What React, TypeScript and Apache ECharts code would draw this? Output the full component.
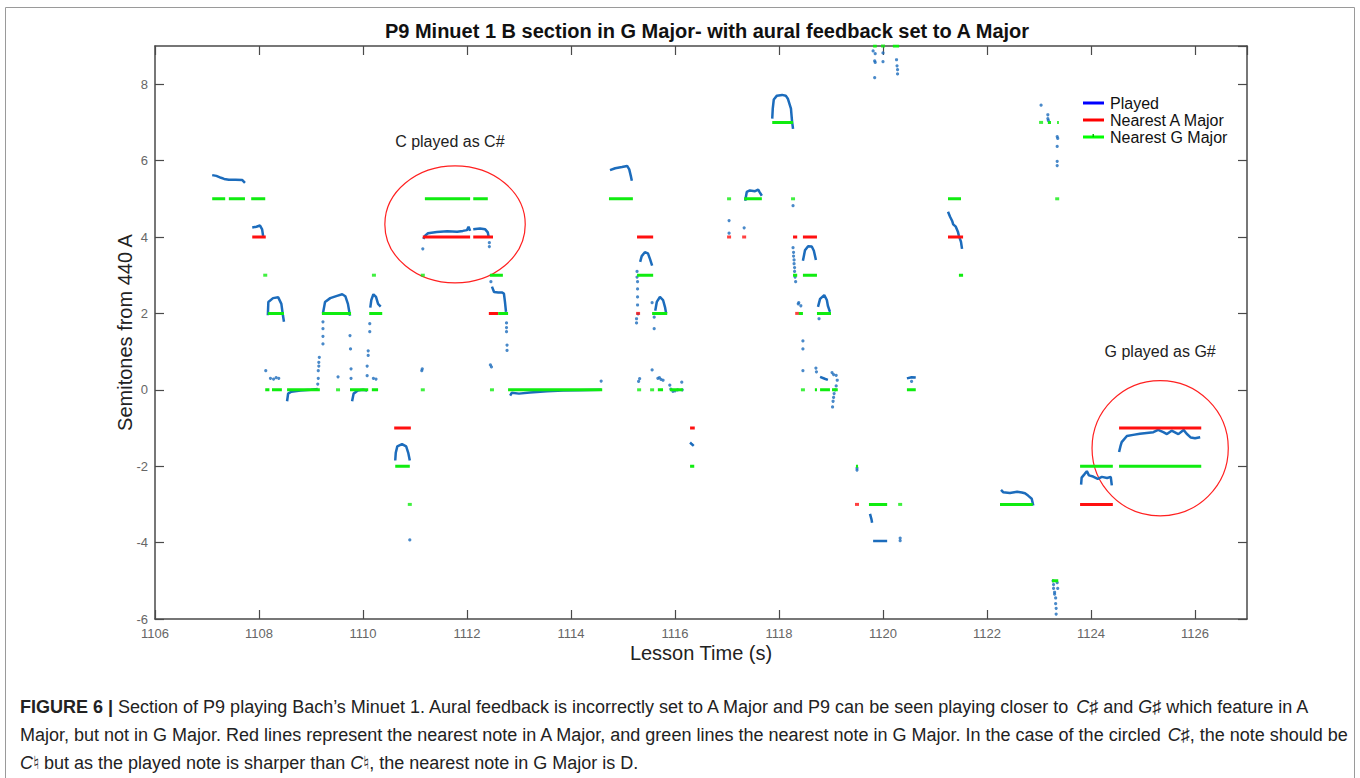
import React, { useEffect, useRef } from "react";
import * as echarts from "echarts";

// ---------------- data ----------------
const titleText = "P9 Minuet 1 B section in G Major- with aural feedback set to A Major";
const xName = "Lesson Time (s)";
const yName = "Semitones from 440 A";
const xMin = 1106, xMax = 1127, xStep = 2;
const yMin = -6, yMax = 9, yStep = 2;

// Played pitch: continuous traces [time, semitones]
const playedCurves: [number, number][][] = [
  [[1107.10,5.62],[1107.18,5.6],[1107.27,5.55],[1107.33,5.52],[1107.42,5.5],[1107.55,5.5],[1107.68,5.49],[1107.73,5.42]],
  [[1107.87,4.25],[1107.95,4.27],[1108.02,4.3],[1108.06,4.2],[1108.08,4.02]],
  [[1108.17,1.95],[1108.18,2.3],[1108.27,2.4],[1108.37,2.42],[1108.43,2.25],[1108.46,1.95],[1108.48,1.78]],
  [[1108.54,-0.3],[1108.56,-0.1],[1108.62,-0.05],[1108.8,-0.02],[1109.0,0],[1109.13,0.02]],
  [[1109.23,2.0],[1109.27,2.3],[1109.37,2.4],[1109.5,2.46],[1109.6,2.5],[1109.66,2.45],[1109.71,2.25],[1109.75,1.94]],
  [[1109.79,-0.3],[1109.82,-0.1],[1109.9,-0.02],[1110.0,0.0],[1110.08,-0.02]],
  [[1110.14,2.15],[1110.16,2.35],[1110.2,2.5],[1110.25,2.43],[1110.29,2.25],[1110.34,2.18]],
  [[1110.62,-1.85],[1110.63,-1.65],[1110.66,-1.48],[1110.75,-1.42],[1110.83,-1.48],[1110.87,-1.65],[1110.9,-1.85]],
  [[1111.16,3.95],[1111.19,4.03],[1111.25,4.1],[1111.42,4.13],[1111.62,4.15],[1111.81,4.14],[1111.92,4.16],[1112.0,4.18],[1112.03,4.27],[1112.06,4.16]],
  [[1112.12,4.2],[1112.25,4.22],[1112.35,4.2],[1112.4,4.12],[1112.42,3.98]],
  [[1112.48,2.7],[1112.52,2.56],[1112.6,2.55],[1112.67,2.55],[1112.71,2.52],[1112.73,2.3],[1112.75,2.04]],
  [[1112.83,-0.15],[1112.86,-0.08],[1113.0,-0.1],[1113.21,-0.07],[1113.54,-0.04],[1113.85,-0.02],[1114.17,-0.01],[1114.58,0.0]],
  [[1114.75,5.75],[1114.85,5.8],[1114.98,5.83],[1115.08,5.86],[1115.12,5.77],[1115.15,5.6],[1115.17,5.47]],
  [[1115.33,3.35],[1115.36,3.5],[1115.42,3.6],[1115.48,3.57],[1115.52,3.42],[1115.56,3.25]],
  [[1115.62,2.07],[1115.65,2.3],[1115.71,2.43],[1115.77,2.35],[1115.81,2.15],[1115.83,2.0]],
  [[1116.29,-1.38],[1116.32,-1.42],[1116.36,-1.47]],
  [[1117.35,4.95],[1117.38,5.18],[1117.44,5.22],[1117.54,5.2],[1117.6,5.24],[1117.63,5.17],[1117.67,5.08]],
  [[1117.87,7.1],[1117.88,7.36],[1117.9,7.6],[1117.96,7.7],[1118.06,7.72],[1118.13,7.7],[1118.17,7.62],[1118.23,7.36],[1118.25,7.04],[1118.27,6.83]],
  [[1118.46,3.38],[1118.5,3.65],[1118.56,3.76],[1118.63,3.75],[1118.67,3.64],[1118.71,3.4]],
  [[1118.75,2.17],[1118.79,2.38],[1118.87,2.48],[1118.92,2.35],[1118.94,2.2],[1118.98,2.04]],
  [[1118.79,0.34],[1118.88,0.29],[1118.94,0.26]],
  [[1120.46,0.3],[1120.55,0.33],[1120.63,0.32]],
  [[1119.75,-3.25],[1119.78,-3.4],[1119.79,-3.48]],
  [[1119.81,-3.96],[1119.95,-3.96],[1120.08,-3.96]],
  [[1121.25,4.66],[1121.29,4.53],[1121.33,4.42],[1121.35,4.33],[1121.4,4.27],[1121.44,4.14],[1121.46,4.03],[1121.5,3.87],[1121.52,3.69]],
  [[1122.27,-2.62],[1122.31,-2.68],[1122.44,-2.7],[1122.58,-2.67],[1122.67,-2.69],[1122.73,-2.71],[1122.79,-2.77],[1122.86,-2.85],[1122.89,-3.03]],
  [[1123.81,-2.48],[1123.82,-2.3],[1123.88,-2.2],[1123.92,-2.13],[1123.96,-2.24],[1124.04,-2.27],[1124.13,-2.33],[1124.21,-2.28],[1124.31,-2.31],[1124.38,-2.28],[1124.4,-2.5]],
  [[1124.54,-1.63],[1124.57,-1.46],[1124.59,-1.37],[1124.69,-1.21],[1124.81,-1.18],[1124.94,-1.15],[1125.07,-1.13],[1125.2,-1.11],[1125.29,-1.05],[1125.39,-1.11],[1125.46,-1.16],[1125.55,-1.07],[1125.68,-1.16],[1125.78,-1.05],[1125.84,-1.15],[1125.92,-1.25],[1126.0,-1.27],[1126.1,-1.24]],
];

// Played pitch: isolated samples
const playedDots: [number, number][] = [
  [1108.13,0.5],[1108.22,0.3],[1108.28,0.28],[1108.33,0.32],[1108.38,0.3],
  [1109.13,0.15],[1109.14,0.3],[1109.14,0.5],[1109.15,0.62],[1109.15,0.72],[1109.16,0.85],
  [1109.23,1.2],[1109.23,1.4],[1109.23,1.6],[1109.23,1.78],
  [1109.52,0.34],[1109.75,1.42],[1109.76,1.07],[1109.77,0.55],[1109.77,0.3],
  [1110.08,0.37],[1110.08,0.62],[1110.1,0.9],[1110.1,1.02],[1110.13,1.52],[1110.13,1.73],
  [1110.2,0.3],[1110.25,0.28],[1110.9,-3.93],
  [1111.15,3.69],[1111.13,0.5],[1111.14,0.55],[1112.43,3.85],[1112.43,3.75],[1112.45,0.65],[1112.47,0.6],
  [1112.46,2.83],[1112.76,1.75],[1112.76,1.63],[1112.76,1.52],[1112.77,1.17],[1112.77,1.03],
  [1114.58,0.23],
  [1115.27,3.1],[1115.27,2.95],[1115.28,2.83],[1115.28,2.64],[1115.28,2.43],[1115.28,2.22],[1115.29,1.99],[1115.26,1.86],[1115.26,1.75],
  [1115.56,2.28],[1115.6,1.9],[1115.6,1.6],[1115.56,0.52],[1115.32,0.29],[1115.3,0.22],
  [1115.67,0.3],[1115.7,0.32],[1115.73,0.27],[1115.77,0.25],[1115.9,0.12],[1115.92,0.02],[1115.96,-0.04],[1116.0,-0.03],[1116.05,0.0],[1116.13,0.2],[1116.14,0.0],
  [1117.04,4.43],[1117.04,4.1],[1117.33,4.24],
  [1118.27,4.82],[1118.27,3.72],[1118.28,3.6],[1118.28,3.5],[1118.29,3.4],[1118.29,3.3],[1118.3,3.2],[1118.3,3.1],[1118.31,2.95],[1118.32,2.83],
  [1118.37,2.25],[1118.42,2.2],[1118.38,2.28],[1118.77,1.86],[1118.46,1.28],[1118.46,1.07],
  [1118.46,0.5],[1118.71,0.57],[1118.72,0.47],
  [1119.02,0.45],[1119.05,0.4],[1119.1,0.38],[1119.12,0.25],[1119.1,0.1],[1119.08,0.0],[1119.06,-0.1],[1119.05,-0.2],[1119.04,-0.3],[1119.03,-0.45],
  [1120.55,0.22],[1119.5,-2.1],[1119.5,-2.05],[1120.33,-3.88],[1120.33,-3.95],
  [1119.81,8.87],[1119.85,8.8],[1119.84,8.61],[1119.85,8.57],[1119.84,8.17],[1120.0,8.82],[1120.0,8.59],[1120.26,8.64],[1120.27,8.48],[1120.28,8.38],[1120.28,8.27],
  [1123.04,7.45],[1123.17,7.2],[1123.17,7.1],[1123.18,7.05],[1123.35,6.63],[1123.36,6.58],[1123.35,6.37],[1123.35,5.98],[1123.35,5.87],
  [1123.27,-5.0],[1123.28,-5.1],[1123.28,-5.2],[1123.3,-5.3],[1123.3,-5.35],[1123.32,-5.45],[1123.32,-5.6],[1123.33,-5.72],[1123.33,-5.87],[1123.35,-5.05],[1123.36,-5.2],
];

// Nearest note in A Major: [start, end, semitones]
const aMajorLines: [number, number, number][] = [
  [1107.87,1108.13,4],[1110.6,1110.92,-1],[1111.15,1112.06,4],[1112.12,1112.5,4],[1112.42,1112.6,2],
  [1115.27,1115.58,4],[1116.29,1116.38,-1],[1118.27,1118.35,4],[1118.46,1118.73,4],
  [1121.25,1121.54,4],[1123.79,1124.42,-3],[1124.54,1126.12,-1],
];
const aMajorDots: [number, number][] = [
  [1115.29,2],[1117.04,4],[1117.33,4],[1118.35,2],[1119.5,-3],
];

// Nearest note in G Major: [start, end, semitones]
const gMajorLines: [number, number, number][] = [
  [1107.10,1107.35,5],[1107.42,1107.73,5],[1107.85,1108.12,5],[1108.17,1108.48,2],
  [1108.12,1108.2,0],[1108.25,1108.44,0],[1108.54,1109.17,0],[1109.21,1109.77,2],
  [1109.75,1110.1,0],[1110.12,1110.37,2],[1110.17,1110.29,0],[1110.62,1110.9,-2],
  [1111.19,1112.06,5],[1112.12,1112.4,5],[1112.44,1112.69,3],[1112.6,1112.79,2],
  [1112.79,1114.6,0],[1114.73,1115.19,5],[1115.27,1115.58,3],[1115.56,1115.85,2],
  [1115.67,1115.77,0],[1115.9,1116.15,0],[1116.29,1116.37,-2],[1117.33,1117.67,5],
  [1117.87,1118.27,7],[1118.27,1118.35,3],[1118.46,1118.73,3],[1118.38,1118.46,2],
  [1118.73,1119.0,2],[1118.69,1118.73,0],[1118.79,1118.98,0],[1119.02,1119.13,0],
  [1119.48,1119.52,-2],[1119.73,1120.08,-3],[1119.81,1119.88,9],[1120.19,1120.31,9],
  [1120.46,1120.63,0],[1121.25,1121.5,5],[1121.46,1121.54,3],[1122.25,1122.88,-3],
  [1123.17,1123.23,7],[1123.35,1123.38,7],[1123.25,1123.37,-5],[1123.79,1124.42,-2],
  [1124.54,1126.12,-2],
];
const gMajorDots: [number, number][] = [
  [1108.12,3],[1109.52,0],[1110.21,3],[1110.9,-3],[1111.15,3],[1111.15,0],[1112.48,0],
  [1115.31,0],[1115.56,0],[1117.04,5],[1118.27,5],[1118.46,0],[1120.33,-3],[1120.0,9],
  [1123.04,7],[1123.35,5],
];

// Annotation ellipses [centreTime, centreSemitones, radiusTime, radiusSemitones]
const annotationEllipses: [number, number, number, number][] = [
  [1111.77, 4.33, 1.35, 1.53],
  [1125.33, -1.53, 1.31, 1.77],
];
const annotationLabels: string[] = ["C played as C#", "G played as G#"];
const annotationLabelPos: [number, number][] = [[1111.67, 6.5], [1125.33, 1.0]];

const legendItems: string[] = ["Played", "Nearest A Major", "Nearest G Major"];

// ---------------- helpers ----------------
const GAP: [any, any] = ["-", "-"];
function curvesToLine(curves: [number, number][][]) {
  const out: any[] = [];
  curves.forEach((c, i) => {
    if (i) out.push(GAP);
    c.forEach((p) => out.push(p));
  });
  return out;
}
function barsToLine(bars: [number, number, number][]) {
  return curvesToLine(bars.map(([a, b, v]) => [[a, v], [b, v]] as [number, number][]));
}

const PLAYED = "#1c6cbc";
const RED = "#ff1010";
const GREEN = "#10ec10";
const AXIS = "#4a4a4a";
const FONT = "Liberation Sans, Arial, Helvetica, sans-serif";

export default function App() {
  const ref = useRef<HTMLDivElement>(null);
  useEffect(() => {
    if (!ref.current) return;
    const chart = echarts.init(ref.current, undefined, { renderer: "svg" });
    const axisCommon = {
      type: "value" as const,
      splitLine: { show: false },
      axisLine: { show: true, onZero: false, lineStyle: { color: AXIS, width: 1.5 } },
      axisTick: { show: true, inside: true, length: 9, lineStyle: { color: AXIS, width: 1.2 } },
    };
    const legendY = [103, 120, 137];
    const legendColors = ["#0000ff", "#ff0000", "#00ff00"];
    const CAP = 18;
    const captionFont = { fontSize: CAP, fontFamily: FONT, fill: "#222" };
    const italic = { fontStyle: "italic", fontSize: CAP, fontFamily: FONT, fill: "#222" };
    chart.setOption({
      animation: false,
      textStyle: { fontFamily: FONT },
      title: {
        text: titleText,
        left: 702,
        top: 16,
        textAlign: "center",
        textStyle: { fontSize: 20, fontWeight: "bold", color: "#111", fontFamily: FONT },
      },
      grid: { left: 155, right: 113, top: 46, bottom: 159 },
      xAxis: [
        {
          ...axisCommon,
          min: xMin, max: xMax, interval: xStep,
          axisLabel: { showMaxLabel: false, color: "#666", fontSize: 13, margin: 8, formatter: (v: number) => String(v) },
          name: xName, nameLocation: "middle", nameGap: 24, nameMoveOverlap: false,
          nameTextStyle: { fontSize: 20, color: "#222" },
        },
        {
          ...axisCommon,
          position: "top",
          min: xMin, max: xMax, interval: xStep,
          axisLabel: { show: false },
        },
      ],
      yAxis: [
        {
          ...axisCommon,
          min: yMin, max: yMax, interval: yStep,
          axisLabel: { showMaxLabel: false, color: "#666", fontSize: 13, margin: 7 },
          name: yName, nameLocation: "middle", nameGap: 20, nameMoveOverlap: false,
          nameTextStyle: { fontSize: 20, color: "#222" },
        },
        {
          ...axisCommon,
          position: "right",
          min: yMin, max: yMax, interval: yStep,
          axisLabel: { show: false },
        },
      ],
      series: [
        {
          name: "Played", type: "line", data: curvesToLine(playedCurves),
          showSymbol: false, connectNulls: false, silent: true,
          lineStyle: { color: PLAYED, width: 2.5 }, itemStyle: { color: PLAYED },
        },
        {
          name: "Played samples", type: "scatter", data: playedDots, silent: true,
          symbol: "circle", symbolSize: 3.2, itemStyle: { color: PLAYED },
        },
        {
          name: "Nearest A Major", type: "line", data: barsToLine(aMajorLines),
          showSymbol: false, connectNulls: false, silent: true,
          lineStyle: { color: RED, width: 3, cap: "butt" }, itemStyle: { color: RED },
        },
        {
          name: "Nearest A Major samples", type: "scatter", data: aMajorDots, silent: true,
          symbol: "rect", symbolSize: [4, 3], itemStyle: { color: RED },
        },
        {
          name: "Nearest G Major", type: "line", data: barsToLine(gMajorLines),
          showSymbol: false, connectNulls: false, silent: true,
          lineStyle: { color: GREEN, width: 3, cap: "butt" }, itemStyle: { color: GREEN },
        },
        {
          name: "Nearest G Major samples", type: "scatter", data: gMajorDots, silent: true,
          symbol: "rect", symbolSize: [4, 3], itemStyle: { color: GREEN },
        },
        {
          name: "circles", type: "custom", data: annotationEllipses, clip: false, silent: true,
          renderItem: (params: any, api: any) => {
            const c = api.coord([api.value(0), api.value(1)]);
            const s = api.size([api.value(2), api.value(3)]);
            return {
              type: "ellipse",
              shape: { cx: c[0], cy: c[1], rx: s[0], ry: s[1] },
              style: { fill: "none", stroke: "#ff2020", lineWidth: 1.2 },
            };
          },
        },
        {
          name: "labels", type: "custom", data: annotationLabelPos, clip: false, silent: true,
          renderItem: (params: any, api: any) => {
            const c = api.coord([api.value(0), api.value(1)]);
            return {
              type: "text",
              x: c[0], y: c[1],
              style: {
                text: annotationLabels[params.dataIndex],
                textAlign: "center", textVerticalAlign: "middle",
                fontSize: 16, fontFamily: FONT, fill: "#222",
              },
            };
          },
        },
      ],
      graphic: [
        {
          type: "rect", silent: true, z: -10,
          shape: { x: 5.5, y: 7.5, width: 1349, height: 800 },
          style: { fill: "none", stroke: "#9a9a9a", lineWidth: 1 },
        },
        ...legendItems.flatMap((label, i) => [
          {
            type: "line", silent: true, z: 100,
            shape: { x1: 1083, y1: legendY[i], x2: 1104, y2: legendY[i] },
            style: { stroke: legendColors[i], lineWidth: 3 },
          },
          {
            type: "text", silent: true, z: 100, x: 1110, y: legendY[i],
            style: { text: label, fontSize: 16, fontFamily: FONT, fill: "#111", textVerticalAlign: "middle" },
          },
        ]),
        {
          type: "rect", silent: true, z: 101,
          shape: { x: 1092.5, y: legendY[2] - 3, width: 1.5, height: 3 },
          style: { fill: "#00c000" },
        },
        {
          type: "text", silent: true, x: 20, y: 707,
          style: {
            text: "{b|FIGURE 6 |} Section of P9 playing Bach’s Minuet 1. Aural feedback is incorrectly set to A Major and P9 can be seen playing closer to {i|C}♯ and {i|G}♯ which feature in A",
            ...captionFont, textVerticalAlign: "middle",
            rich: {
              b: { fontWeight: "bold", fontSize: CAP, fontFamily: FONT, fill: "#222" },
              i: italic,
            },
          },
        },
        {
          type: "text", silent: true, x: 20, y: 735,
          style: {
            text: "Major, but not in G Major. Red lines represent the nearest note in A Major, and green lines the nearest note in G Major. In the case of the circled {i|C}♯, the note should be",
            ...captionFont, textVerticalAlign: "middle",
            rich: { i: italic },
          },
        },
        {
          type: "text", silent: true, x: 20, y: 763,
          style: {
            text: "{i|C}♮ but as the played note is sharper than {i|C}♮, the nearest note in G Major is D.",
            ...captionFont, textVerticalAlign: "middle",
            rich: { i: italic },
          },
        },
      ],
    });
    return () => chart.dispose();
  }, []);
  return (
    <div
      ref={ref}
      style={{ position: "fixed", left: 0, top: 0, width: 1360, height: 778, background: "#fff" }}
    />
  );
}
